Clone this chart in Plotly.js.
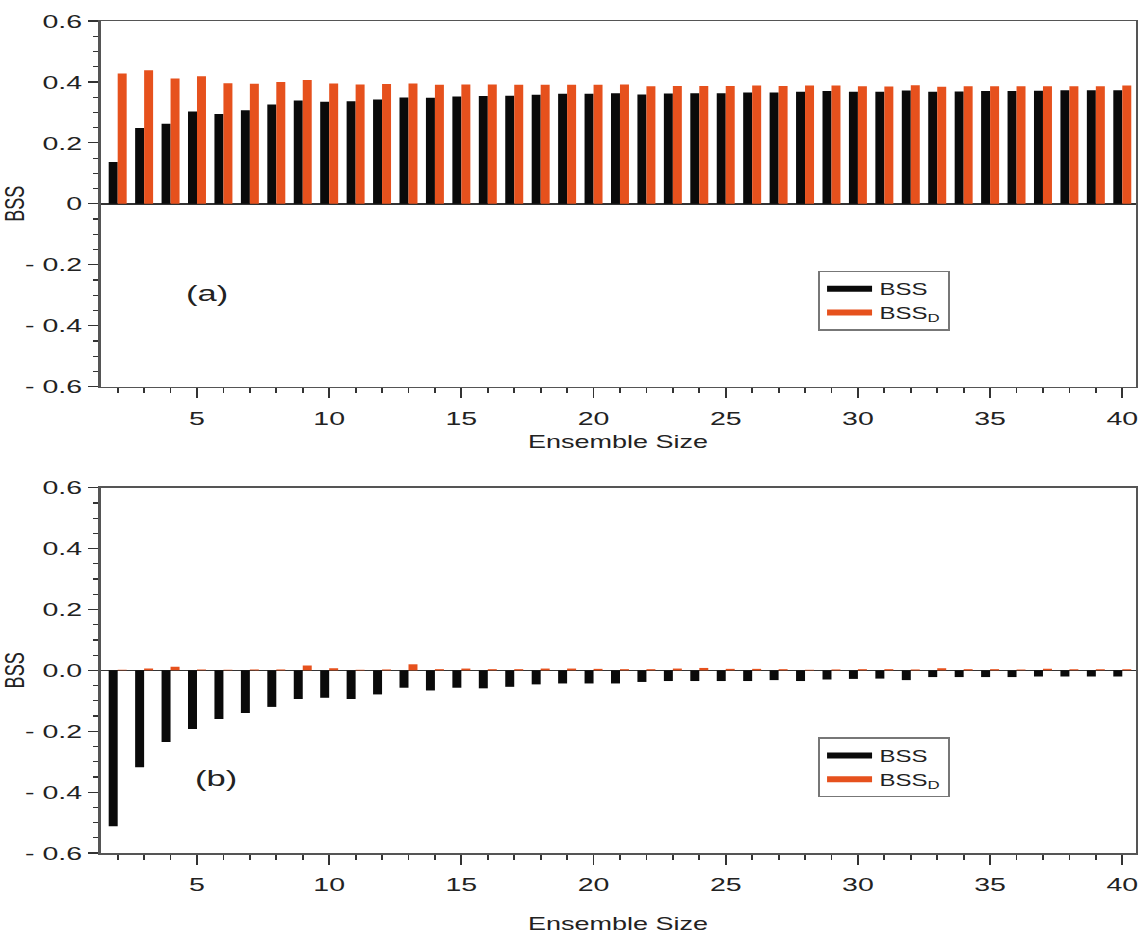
<!DOCTYPE html>
<html>
<head>
<meta charset="utf-8">
<script src="https://cdn.plot.ly/plotly-3.0.1.min.js"></script>
<style>
html, body { margin: 0; padding: 0; background: #fff; overflow: hidden; }
#wrap { width: 760px; height: 939px; transform: scaleX(1.5); transform-origin: 0 0; }
</style>
</head>
<body>
<div id="wrap"></div>
<script>
// Ensemble sizes
const sizes = [2,3,4,5,6,7,8,9,10,11,12,13,14,15,16,17,18,19,20,21,22,23,24,25,26,27,28,29,30,31,32,33,34,35,36,37,38,39,40];

// Panel (a)
const bssA = [0.137,0.249,0.263,0.303,0.295,0.307,0.326,0.339,0.335,0.337,0.342,0.349,0.348,0.352,0.354,0.355,0.358,0.361,0.361,0.363,0.359,0.362,0.363,0.363,0.365,0.365,0.368,0.370,0.368,0.368,0.372,0.368,0.369,0.370,0.370,0.371,0.373,0.373,0.373];
const bssDA = [0.428,0.438,0.411,0.419,0.396,0.394,0.400,0.406,0.395,0.392,0.393,0.395,0.391,0.392,0.392,0.391,0.391,0.391,0.391,0.392,0.386,0.387,0.387,0.387,0.388,0.387,0.388,0.388,0.386,0.385,0.389,0.384,0.386,0.386,0.386,0.386,0.386,0.386,0.388];

// Panel (b)
const bssB = [-0.512,-0.318,-0.235,-0.193,-0.160,-0.140,-0.120,-0.094,-0.090,-0.094,-0.079,-0.057,-0.066,-0.057,-0.059,-0.054,-0.046,-0.043,-0.043,-0.043,-0.038,-0.035,-0.035,-0.035,-0.035,-0.032,-0.035,-0.030,-0.028,-0.027,-0.032,-0.022,-0.022,-0.022,-0.022,-0.020,-0.020,-0.020,-0.020];
const bssDB = [0.002,0.006,0.012,0.003,0.002,0.003,0.003,0.016,0.007,0.002,0.003,0.020,0.004,0.006,0.004,0.004,0.006,0.006,0.005,0.004,0.004,0.006,0.008,0.005,0.005,0.004,0.002,0.003,0.004,0.004,0.003,0.007,0.004,0.004,0.003,0.005,0.004,0.004,0.004];

// Tick labels
const yTickVals = [-0.6,-0.4,-0.2,0,0.2,0.4,0.6];
const yTickTextA = ['- 0.6','- 0.4','- 0.2','0','0.2','0.4','0.6'];
const yTickTextB = ['- 0.6','- 0.4','- 0.2','0.0','0.2','0.4','0.6'];
const xTickVals = [5,10,15,20,25,30,35,40];

const BLACK = '#0a0a0a';
const ORANGE = '#e6511d';
const FONT = 'Liberation Sans, Arial, Helvetica, sans-serif';
const TXT = '#222';

const traces = [
  {type:'bar', x:sizes, y:bssA, marker:{color:BLACK}, xaxis:'x', yaxis:'y', showlegend:false},
  {type:'bar', x:sizes, y:bssDA, marker:{color:ORANGE}, xaxis:'x', yaxis:'y', showlegend:false},
  {type:'bar', x:sizes, y:bssB, marker:{color:BLACK}, xaxis:'x2', yaxis:'y2', showlegend:false},
  {type:'bar', x:sizes, y:bssDB, marker:{color:ORANGE}, xaxis:'x2', yaxis:'y2', showlegend:false},
  {type:'scatter', mode:'lines', x:[null], y:[null], name:'BSS', line:{color:BLACK, width:6}, xaxis:'x', yaxis:'y', legend:'legend'},
  {type:'scatter', mode:'lines', x:[null], y:[null], name:'BSS<sub>D</sub>', line:{color:ORANGE, width:6}, xaxis:'x', yaxis:'y', legend:'legend'},
  {type:'scatter', mode:'lines', x:[null], y:[null], name:'BSS', line:{color:BLACK, width:6}, xaxis:'x2', yaxis:'y2', legend:'legend2'},
  {type:'scatter', mode:'lines', x:[null], y:[null], name:'BSS<sub>D</sub>', line:{color:ORANGE, width:6}, xaxis:'x2', yaxis:'y2', legend:'legend2'}
];

function xAxis(domainAnchor, standoff) {
  return {
    anchor: domainAnchor,
    range: [1.35, 40.5],
    tickmode: 'array', tickvals: xTickVals,
    ticks: 'outside', ticklen: 10, tickwidth: 1.2, tickcolor: '#333',
    ticklabelstandoff: 4,
    minor: {tickmode:'linear', tick0: 0, dtick: 1, ticks: 'outside', ticklen: 5, tickwidth: 1.2, tickcolor: '#333'},
    showline: true, mirror: true, linecolor: '#555', linewidth: 1.5,
    showgrid: false, zeroline: false,
    tickfont: {family: FONT, size: 19, color: TXT},
    title: {text: 'Ensemble Size', font: {family: FONT, size: 18, color: TXT}, standoff: standoff},
    automargin: false
  };
}
function yAxis(domain, anchor, ticktext) {
  return {
    domain: domain, anchor: anchor,
    range: [-0.6, 0.6],
    tickmode: 'array', tickvals: yTickVals, ticktext: ticktext,
    ticks: 'outside', ticklen: 7, tickwidth: 1.2, tickcolor: '#333',
    minor: {tickmode:'linear', tick0: 0, dtick: 0.05, ticks: 'outside', ticklen: 3.5, tickwidth: 1.2, tickcolor: '#333'},
    showline: true, mirror: true, linecolor: '#555', linewidth: 1.5,
    showgrid: false,
    zeroline: true, zerolinecolor: '#333', zerolinewidth: 1.5,
    tickfont: {family: FONT, size: 19, color: TXT},
    title: {text: 'BSS', font: {family: FONT, size: 18, color: TXT}, standoff: 1},
    automargin: false
  };
}

const legendBase = {
  xref: 'paper', yref: 'paper', xanchor: 'left', yanchor: 'top',
  bgcolor: '#fff', bordercolor: '#777', borderwidth: 1.2,
  font: {family: FONT, size: 16, color: TXT},
  itemwidth: 30, tracegroupgap: 0
};

const layout = {
  width: 760, height: 939,
  margin: {l: 67, r: 3, t: 21, b: 86},
  paper_bgcolor: '#fff', plot_bgcolor: '#fff',
  barmode: 'group', bargap: 0.32, bargroupgap: 0,
  xaxis: xAxis('y', 7),
  yaxis: yAxis([0.5605, 1], 'x', yTickTextA),
  xaxis2: xAxis('y2', 23),
  yaxis2: yAxis([0, 0.439], 'x2', yTickTextB),
  legend: Object.assign({}, legendBase, {x: 0.693, y: 0.70}),
  legend2: Object.assign({}, legendBase, {x: 0.693, y: 0.139}),
  annotations: [
    {text: '(a)', xref: 'paper', yref: 'paper', x: 0.103, y: 0.673, xanchor: 'center', yanchor: 'middle', showarrow: false, font: {family: FONT, size: 23, color: TXT}},
    {text: '(b)', xref: 'paper', yref: 'paper', x: 0.111, y: 0.090, xanchor: 'center', yanchor: 'middle', showarrow: false, font: {family: FONT, size: 23, color: TXT}}
  ],
  showlegend: true
};

Plotly.newPlot('wrap', traces, layout, {staticPlot: true, displayModeBar: false});
</script>
</body>
</html>
